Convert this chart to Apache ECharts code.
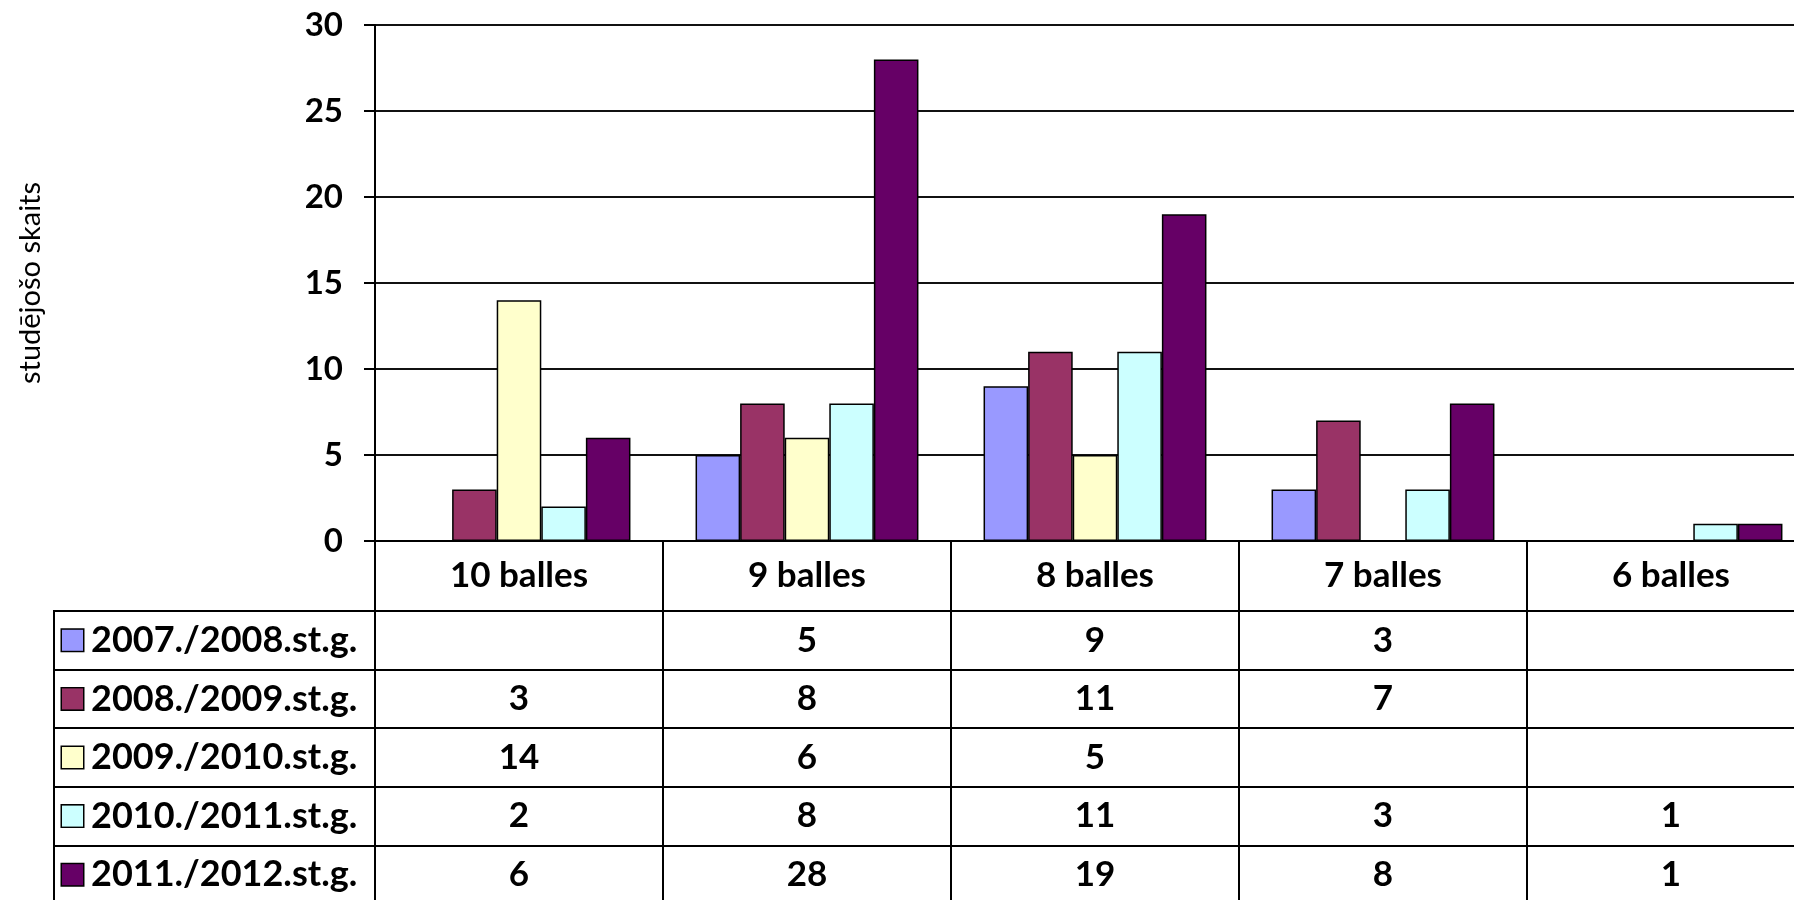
<!DOCTYPE html>
<html>
<head>
<meta charset="utf-8">
<script src="https://cdn.jsdelivr.net/npm/echarts@6/dist/echarts.min.js"></script>
<style>
html,body{margin:0;padding:0;background:#fff;overflow:hidden;}
#c{width:1794px;height:900px;}
</style>
</head>
<body>
<div id="c"></div>
<script>
// ---- data ----
const categories = ['10 balles', '9 balles', '8 balles', '7 balles', '6 balles'];
const seriesNames = ['2007./2008.st.g.', '2008./2009.st.g.', '2009./2010.st.g.', '2010./2011.st.g.', '2011./2012.st.g.'];
const v2007 = [null, 5, 9, 3, null];
const v2008 = [3, 8, 11, 7, null];
const v2009 = [14, 6, 5, null, null];
const v2010 = [2, 8, 11, 3, 1];
const v2011 = [6, 28, 19, 8, 1];
const yMin = 0, yMax = 30, yStep = 5;
const yTitle = 'studējošo skaits';

// ---- style ----
const colors = ['#9999FF', '#993366', '#FFFFCC', '#CCFFFF', '#660066'];
const allValues = [v2007, v2008, v2009, v2010, v2011];
const F = 'Lato, "Open Sans", sans-serif';
const LW = 2;

const chart = echarts.init(document.getElementById('c'), null, {renderer: 'canvas'});

const barSeries = allValues.map((vals, i) => ({
  name: seriesNames[i],
  type: 'bar',
  xAxisIndex: 0, yAxisIndex: 0,
  data: vals,
  barGap: '0%',
  barCategoryGap: '22.6%',
  itemStyle: {color: colors[i], borderColor: '#000', borderWidth: 1.5},
  emphasis: {disabled: true}
}));

const cellData = [];
allValues.forEach((vals, i) => {
  vals.forEach((v, j) => {
    if (v !== null && v !== undefined) cellData.push([categories[j], seriesNames[i], v]);
  });
});

const rich = {t: {fontFamily: F, fontWeight: 'bold', fontSize: 36, color: '#000', padding: [0, 0, 0, 8]}};
colors.forEach((c, i) => {
  rich['s' + i] = {width: 21, height: 21, backgroundColor: c, borderColor: '#000', borderWidth: 1.5};
});

const hidden = {show: false};
const gridBase = {outerBoundsMode: 'none', containLabel: false};
const gridBorder = Object.assign({show: true, borderColor: '#000', borderWidth: LW, backgroundColor: 'transparent'}, gridBase);
const W = 1440;

const option = {
  animation: false,
  backgroundColor: '#fff',
  grid: [
    Object.assign({left: 375, top: 25, width: W, height: 516}, gridBase),
    Object.assign({left: 375, top: 541, width: W, height: 70}, gridBorder),
    Object.assign({left: 54, width: 321, top: 611, height: 293}, gridBorder),
    Object.assign({left: 375, top: 611, width: W, height: 293}, gridBorder)
  ],
  xAxis: [
    {
      gridIndex: 0, type: 'category', data: categories,
      axisLine: {show: true, lineStyle: {color: '#000', width: LW}},
      axisTick: {show: false},
      axisLabel: {show: true, interval: 0, margin: 35, verticalAlign: 'middle', fontFamily: F, fontWeight: 'bold', fontSize: 35, color: '#000'},
      splitLine: {show: false}
    },
    {
      gridIndex: 1, type: 'category', data: categories,
      axisLine: hidden, axisTick: hidden, axisLabel: hidden,
      splitLine: {show: true, interval: 0, lineStyle: {color: '#000', width: LW}}
    },
    {
      gridIndex: 2, type: 'category', data: [''],
      axisLine: hidden, axisTick: hidden, axisLabel: hidden, splitLine: hidden
    },
    {
      gridIndex: 3, type: 'category', data: categories,
      axisLine: hidden, axisTick: hidden, axisLabel: hidden,
      splitLine: {show: true, interval: 0, lineStyle: {color: '#000', width: LW}}
    }
  ],
  yAxis: [
    {
      gridIndex: 0, type: 'value', min: yMin, max: yMax, interval: yStep,
      name: yTitle, nameLocation: 'middle', nameRotate: 90, nameGap: 330,
      nameTextStyle: {fontFamily: F, fontSize: 29, color: '#000'},
      axisLine: {show: true, lineStyle: {color: '#000', width: LW}},
      axisTick: {show: true, length: 11, lineStyle: {color: '#000', width: LW}},
      axisLabel: {margin: 32, fontFamily: F, fontWeight: 'bold', fontSize: 33, color: '#000'},
      splitLine: {show: true, lineStyle: {color: '#111', width: LW}}
    },
    {
      gridIndex: 1, type: 'value', min: 0, max: 1,
      axisLine: hidden, axisTick: hidden, axisLabel: hidden, splitLine: hidden
    },
    {
      gridIndex: 2, type: 'category', data: seriesNames, inverse: true,
      axisLine: hidden, axisTick: hidden,
      axisLabel: {
        show: true, inside: true, margin: 8, interval: 0,
        formatter: (val, idx) => '{s' + idx + '|}{t|' + val + '}',
        rich: rich
      },
      splitLine: {show: true, interval: 0, lineStyle: {color: '#000', width: LW}}
    },
    {
      gridIndex: 3, type: 'category', data: seriesNames, inverse: true,
      axisLine: hidden, axisTick: hidden, axisLabel: hidden,
      splitLine: {show: true, interval: 0, lineStyle: {color: '#000', width: LW}}
    }
  ],
  series: barSeries.concat([{
    name: 'table',
    type: 'scatter',
    xAxisIndex: 3, yAxisIndex: 3,
    symbolSize: 1,
    itemStyle: {color: 'rgba(255,255,255,0)', opacity: 1},
    label: {
      show: true, position: 'inside', opacity: 1,
      formatter: p => String(p.value[2]),
      fontFamily: F, fontWeight: 'bold', fontSize: 35, color: '#000',
      textBorderWidth: 0
    },
    emphasis: {disabled: true},
    data: cellData
  }])
};

chart.setOption(option);
</script>
</body>
</html>
